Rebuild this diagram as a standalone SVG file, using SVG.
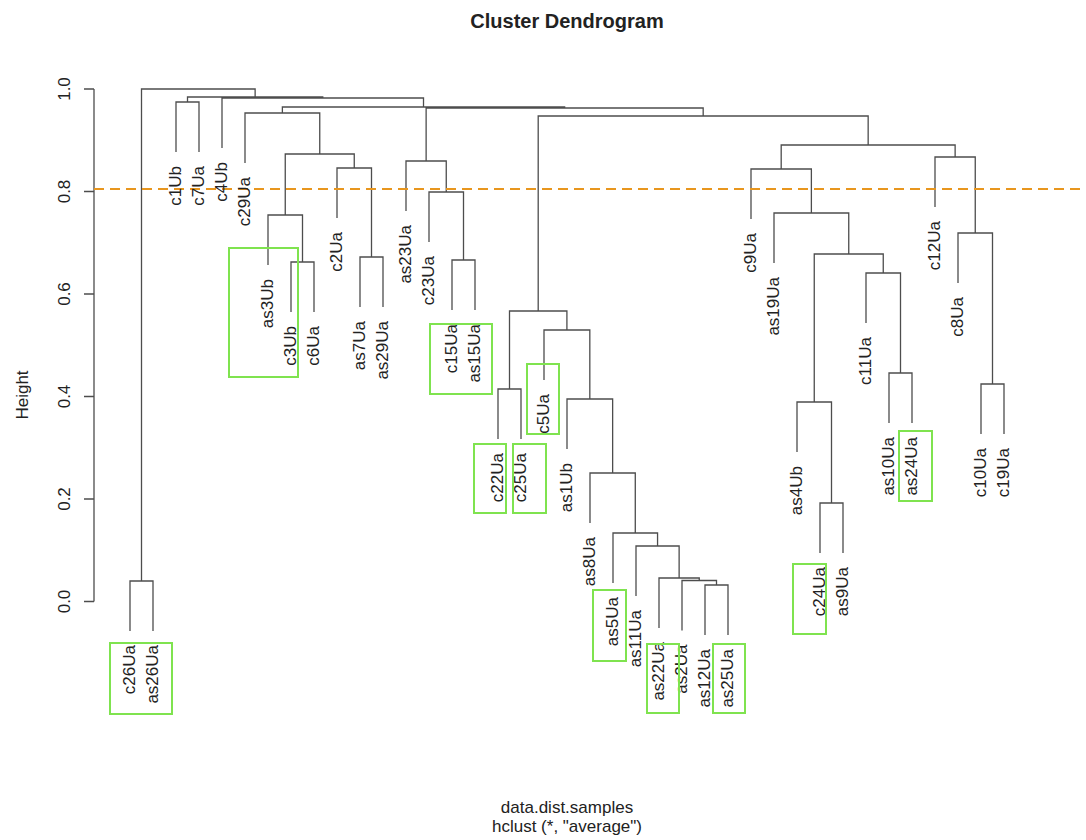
<svg xmlns="http://www.w3.org/2000/svg" width="1086" height="840" viewBox="0 0 1086 840">
<style>
text{font-family:"Liberation Sans",Arial,sans-serif;fill:#222}
.lbl{font-size:17px;text-anchor:end}
.ax{font-size:17px;text-anchor:middle}
.ttl{font-size:20px;font-weight:bold;text-anchor:middle}
.sub{font-size:17px;text-anchor:middle}
.ln{fill:none;stroke:#4d4d4d;stroke-width:1.3}
.hl{fill:none;stroke:#7fe34f;stroke-width:2}
.cut{stroke:#e8961e;stroke-width:2;stroke-dasharray:10 6}
</style>
<rect width="1086" height="840" fill="#fff"/>
<text class="ttl" x="567" y="28">Cluster Dendrogram</text>
<g id="axis">
<path class="ln" d="M94 89V601.5M84 89H94M84 191.5H94M84 294H94M84 396.5H94M84 499H94M84 601.5H94"/>
<text class="ax" transform="rotate(-90 70 89)" x="70" y="89">1.0</text>
<text class="ax" transform="rotate(-90 70 191.5)" x="70" y="191.5">0.8</text>
<text class="ax" transform="rotate(-90 70 294)" x="70" y="294">0.6</text>
<text class="ax" transform="rotate(-90 70 396.5)" x="70" y="396.5">0.4</text>
<text class="ax" transform="rotate(-90 70 499)" x="70" y="499">0.2</text>
<text class="ax" transform="rotate(-90 70 601.5)" x="70" y="601.5">0.0</text>
<text class="ax" transform="rotate(-90 28 395)" x="28" y="395">Height</text>
</g>
<g id="connectors">
<path class="ln" d="
M130 631V581H153V631
M176 152V102H199V152
M291 312V262H314V312
M268 265V215H302.5V262
M360 307V257H383V307
M337 218V168H371.5V257
M285.25 215V154H354.25V168
M245 163V113H319.75V154
M452 310V260H475V310
M429 242V192H463.5V260
M406 211V161H446.25V192
M498 439V389H521V439
M705 635V585H728V635
M682 630.5V580.5H716.5V585
M659 628V578H699.25V580.5
M636 596V546H679.13V578
M613 583V533H657.56V546
M590 523V473H635.28V533
M567 449V399H612.64V473
M544 380V330H589.82V399
M509.5 389V311H566.91V330
M820 553V503H843V553
M797 452V402H831.5V503
M889 423V373H912V423
M866 323V273H900.5V373
M814.25 402V254H883.25V273
M774 263V213H848.75V254
M751 219V169H811.38V213
M981 434V384H1004V434
M958 283V233H992.5V384
M935 207V157H975.25V233
M781.19 169V145H955.13V157
M538.2 311V116H868.16V145
M426.13 161V108H703.18V116
M282.38 113V107H564.65V108
M222 148V98H423.51V107
M187.5 102V97H322.76V98
M141.5 581V89H255.13V97"/>
<line class="cut" x1="94" y1="189" x2="1086" y2="189"/>
</g>
<g id="leaves">
<g id="n-c26Ua"><text class="lbl" transform="rotate(-90 135 645)" x="135" y="645">c26Ua</text></g>
<g id="n-as26Ua"><text class="lbl" transform="rotate(-90 158 645)" x="158" y="645">as26Ua</text></g>
<g id="n-c1Ub"><text class="lbl" transform="rotate(-90 181 166)" x="181" y="166">c1Ub</text></g>
<g id="n-c7Ua"><text class="lbl" transform="rotate(-90 204 166)" x="204" y="166">c7Ua</text></g>
<g id="n-c4Ub"><text class="lbl" transform="rotate(-90 227 162)" x="227" y="162">c4Ub</text></g>
<g id="n-c29Ua"><text class="lbl" transform="rotate(-90 250 177)" x="250" y="177">c29Ua</text></g>
<g id="n-as3Ub"><text class="lbl" transform="rotate(-90 273 279)" x="273" y="279">as3Ub</text></g>
<g id="n-c3Ub"><text class="lbl" transform="rotate(-90 296 326)" x="296" y="326">c3Ub</text></g>
<g id="n-c6Ua"><text class="lbl" transform="rotate(-90 319 326)" x="319" y="326">c6Ua</text></g>
<g id="n-c2Ua"><text class="lbl" transform="rotate(-90 342 232)" x="342" y="232">c2Ua</text></g>
<g id="n-as7Ua"><text class="lbl" transform="rotate(-90 365 321)" x="365" y="321">as7Ua</text></g>
<g id="n-as29Ua"><text class="lbl" transform="rotate(-90 388 321)" x="388" y="321">as29Ua</text></g>
<g id="n-as23Ua"><text class="lbl" transform="rotate(-90 411 225)" x="411" y="225">as23Ua</text></g>
<g id="n-c23Ua"><text class="lbl" transform="rotate(-90 434 256)" x="434" y="256">c23Ua</text></g>
<g id="n-c15Ua"><text class="lbl" transform="rotate(-90 457 324)" x="457" y="324">c15Ua</text></g>
<g id="n-as15Ua"><text class="lbl" transform="rotate(-90 480 324)" x="480" y="324">as15Ua</text></g>
<g id="n-c22Ua"><text class="lbl" transform="rotate(-90 503 453)" x="503" y="453">c22Ua</text></g>
<g id="n-c25Ua"><text class="lbl" transform="rotate(-90 526 453)" x="526" y="453">c25Ua</text></g>
<g id="n-c5Ua"><text class="lbl" transform="rotate(-90 549 394)" x="549" y="394">c5Ua</text></g>
<g id="n-as1Ub"><text class="lbl" transform="rotate(-90 572 463)" x="572" y="463">as1Ub</text></g>
<g id="n-as8Ua"><text class="lbl" transform="rotate(-90 595 537)" x="595" y="537">as8Ua</text></g>
<g id="n-as5Ua"><text class="lbl" transform="rotate(-90 618 597)" x="618" y="597">as5Ua</text></g>
<g id="n-as11Ua"><text class="lbl" transform="rotate(-90 641 610)" x="641" y="610">as11Ua</text></g>
<g id="n-as22Ua"><text class="lbl" transform="rotate(-90 664 642)" x="664" y="642">as22Ua</text></g>
<g id="n-as2Ua"><text class="lbl" transform="rotate(-90 687 644.5)" x="687" y="644.5">as2Ua</text></g>
<g id="n-as12Ua"><text class="lbl" transform="rotate(-90 710 649)" x="710" y="649">as12Ua</text></g>
<g id="n-as25Ua"><text class="lbl" transform="rotate(-90 733 649)" x="733" y="649">as25Ua</text></g>
<g id="n-c9Ua"><text class="lbl" transform="rotate(-90 756 233)" x="756" y="233">c9Ua</text></g>
<g id="n-as19Ua"><text class="lbl" transform="rotate(-90 779 277)" x="779" y="277">as19Ua</text></g>
<g id="n-as4Ub"><text class="lbl" transform="rotate(-90 802 466)" x="802" y="466">as4Ub</text></g>
<g id="n-c24Ua"><text class="lbl" transform="rotate(-90 825 567)" x="825" y="567">c24Ua</text></g>
<g id="n-as9Ua"><text class="lbl" transform="rotate(-90 848 567)" x="848" y="567">as9Ua</text></g>
<g id="n-c11Ua"><text class="lbl" transform="rotate(-90 871 337)" x="871" y="337">c11Ua</text></g>
<g id="n-as10Ua"><text class="lbl" transform="rotate(-90 894 437)" x="894" y="437">as10Ua</text></g>
<g id="n-as24Ua"><text class="lbl" transform="rotate(-90 917 437)" x="917" y="437">as24Ua</text></g>
<g id="n-c12Ua"><text class="lbl" transform="rotate(-90 940 221)" x="940" y="221">c12Ua</text></g>
<g id="n-c8Ua"><text class="lbl" transform="rotate(-90 963 297)" x="963" y="297">c8Ua</text></g>
<g id="n-c10Ua"><text class="lbl" transform="rotate(-90 986 448)" x="986" y="448">c10Ua</text></g>
<g id="n-c19Ua"><text class="lbl" transform="rotate(-90 1009 448)" x="1009" y="448">c19Ua</text></g>
</g>
<g id="highlights">
<rect class="hl" x="110" y="643" width="62" height="71"/>
<rect class="hl" x="229" y="248" width="69" height="129"/>
<rect class="hl" x="430" y="324" width="62" height="70"/>
<rect class="hl" x="527" y="364" width="32" height="70"/>
<rect class="hl" x="474" y="444" width="32" height="69"/>
<rect class="hl" x="513" y="444" width="33" height="69"/>
<rect class="hl" x="593" y="590" width="33" height="71"/>
<rect class="hl" x="647" y="644" width="32" height="69"/>
<rect class="hl" x="713" y="644" width="32" height="69"/>
<rect class="hl" x="793" y="564" width="33" height="70"/>
<rect class="hl" x="899" y="431" width="33" height="70"/>
</g>
<text class="sub" x="567" y="813">data.dist.samples</text>
<text class="sub" x="567" y="832">hclust (*, "average")</text>
</svg>
